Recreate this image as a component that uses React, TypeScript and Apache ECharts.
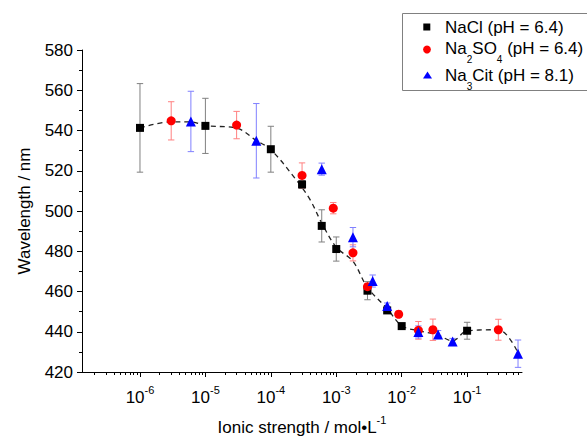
import React, { useEffect, useRef } from 'react';
import * as echarts from 'echarts';

// ---- data (x = ionic strength in mol/L, y = wavelength in nm, err = +/- nm) ----
const naclX = [1e-6, 1e-5, 1e-4, 3e-4, 6e-4, 1e-3, 3e-3, 6e-3, 1e-2, 1e-1];
const naclY = [541.3, 542.3, 530.7, 513.2, 492.6, 481.1, 460.4, 450.6, 442.8, 440.5];
const naclErr = [22, 13.7, 11.4, 2, 8, 6, 4.5, 1.5, 1.5, 4.2];

const na2so4X = [3e-6, 3e-5, 3e-4, 9e-4, 1.8e-3, 3e-3, 9e-3, 1.8e-2, 3e-2, 3e-1];
const na2so4Y = [544.8, 542.7, 517.7, 501.4, 479.2, 462.4, 448.7, 440.7, 441.0, 441.0];
const na2so4Err = [9.5, 6.8, 6.2, 2.8, 4.0, 1.5, 1.5, 4.4, 5.3, 5.2];

const na3citX = [6e-6, 6e-5, 6e-4, 1.8e-3, 3.6e-3, 6e-3, 1.8e-2, 3.6e-2, 6e-2, 6e-1];
const na3citY = [544.5, 534.9, 520.8, 487.0, 465.2, 452.8, 439.9, 438.6, 435.2, 429.1];
const na3citErr = [15, 18.5, 3, 4.8, 3, 1.5, 3, 2, 1.5, 6.8];

// dashed guide curve
const fitX = [1e-6, 3e-6, 6e-6, 1e-5, 3e-5, 6e-5, 1e-4, 2.5e-4, 4e-4, 6e-4, 1e-3, 1.8e-3, 3e-3, 6e-3, 1e-2, 1.8e-2, 3.5e-2, 6e-2, 0.1, 0.3, 0.6];
const fitY = [541.3, 544.3, 544.3, 542.4, 541.2, 535, 530.5, 515, 505.5, 494, 482, 475, 462, 451.5, 443, 440.5, 438.5, 435.5, 440.5, 441, 429.5];

// legend texts: [text, 'n' = normal | 's' = subscript]
const legendNaCl: [string, string][] = [['NaCl (pH = 6.4)', 'n']];
const legendNa2SO4: [string, string][] = [['Na', 'n'], ['2', 's'], ['SO', 'n'], ['4', 's'], [' (pH = 6.4)', 'n']];
const legendNa3Cit: [string, string][] = [['Na', 'n'], ['3', 's'], ['Cit (pH = 8.1)', 'n']];

// axis ticks
const xMin = 1.3e-7;
const xMax = 0.69;
const majorTicks = [1e-6, 1e-5, 1e-4, 1e-3, 1e-2, 1e-1];
const minorMantissas = [2, 3, 4, 5, 6, 7, 8, 9];
const minorExponents = [-7, -6, -5, -4, -3, -2, -1];
const minorTicks: number[] = [];
minorExponents.forEach((e) => minorMantissas.forEach((m) => {
  const v = m * Math.pow(10, e);
  if (v > xMin && v < xMax) minorTicks.push(v);
}));

const FONT = '"Liberation Sans", Arial, sans-serif';
const MAIN_SIZE = 17;
const SUB_SIZE = 10;

const zip = (xs: number[], ys: number[], es?: number[]) =>
  xs.map((x, i) => (es ? [x, ys[i], es[i]] : [x, ys[i]]));

const errSeries = (name: string, data: number[][], color: string) => ({
  type: 'custom',
  name,
  xAxisIndex: 0,
  yAxisIndex: 0,
  data,
  encode: { x: 0, y: 1 },
  z: 2,
  silent: true,
  renderItem: (_params: any, api: any) => {
    const x = api.value(0);
    const y = api.value(1);
    const e = api.value(2);
    const top = api.coord([x, y + e]);
    const bot = api.coord([x, y - e]);
    const hw = 3.2;
    const style = { stroke: color, lineWidth: 1 };
    return {
      type: 'group',
      children: [
        { type: 'line', shape: { x1: top[0], y1: top[1], x2: bot[0], y2: bot[1] }, style },
        { type: 'line', shape: { x1: top[0] - hw, y1: top[1], x2: top[0] + hw, y2: top[1] }, style },
        { type: 'line', shape: { x1: bot[0] - hw, y1: bot[1], x2: bot[0] + hw, y2: bot[1] }, style },
      ],
    };
  },
});

let measureCtx: CanvasRenderingContext2D | null = null;
const measure = (t: string, size: number) => {
  if (!measureCtx) measureCtx = document.createElement('canvas').getContext('2d');
  if (!measureCtx) return t.length * size * 0.55;
  measureCtx.font = `${size}px ${FONT}`;
  return measureCtx.measureText(t).width;
};

const legendTextRow = (parts: [string, string][], x0: number, yMid: number) => {
  const out: any[] = [];
  let x = x0;
  parts.forEach(([t, kind]) => {
    const sub = kind === 's';
    const size = sub ? SUB_SIZE : MAIN_SIZE;
    out.push({
      type: 'text',
      x,
      y: sub ? yMid + 11 : yMid,
      silent: true,
      style: { text: t, fontSize: size, fontFamily: FONT, fill: '#000', align: 'left', verticalAlign: 'middle' },
    });
    x += measure(t, size);
  });
  return out;
};

export default function App() {
  const ref = useRef<HTMLDivElement>(null);
  useEffect(() => {
    if (!ref.current) return;
    const chart = echarts.init(ref.current, undefined, { renderer: 'svg' });
    const textX = 445;
    const legendGraphic = [
      {
        type: 'rect',
        silent: true,
        shape: { x: 402.5, y: 13.5, width: 220, height: 77 },
        style: { fill: '#ffffff', stroke: '#808080', lineWidth: 1 },
        z: 10,
      },
      { type: 'rect', silent: true, shape: { x: 423.3, y: 23.5, width: 7, height: 7 }, style: { fill: '#000000' }, z: 11 },
      { type: 'circle', silent: true, shape: { cx: 427, cy: 49.5, r: 3.9 }, style: { fill: '#ff0000' }, z: 11 },
      { type: 'polygon', silent: true, shape: { points: [[427.5, 71.6], [423, 78.6], [432, 78.6]] }, style: { fill: '#0000ff' }, z: 11 },
      ...legendTextRow(legendNaCl, textX, 27.5).map((e) => ({ ...e, z: 11 })),
      ...legendTextRow(legendNa2SO4, textX, 48.5).map((e) => ({ ...e, z: 11 })),
      ...legendTextRow(legendNa3Cit, textX, 75).map((e) => ({ ...e, z: 11 })),
    ];
    const option: any = {
      animation: false,
      backgroundColor: '#ffffff',
      grid: { left: 82, right: 65, top: 50, bottom: 64, containLabel: false, outerBoundsMode: 'none' },
      graphic: legendGraphic,
      xAxis: [
        {
          type: 'log',
          min: xMin,
          max: xMax,
          position: 'bottom',
          name: '{n|Ionic strength / mol•L}{sup|-1}',
          nameLocation: 'middle',
          nameGap: 42,
          nameTextStyle: {
            fontSize: 17,
            fontFamily: FONT,
            color: '#000',
            rich: {
              n: { fontSize: 17, fontFamily: FONT, color: '#000' },
              sup: { fontSize: 11, fontFamily: FONT, color: '#000', padding: [0, 0, 16, 0] },
            },
          },
          axisLine: { show: true, lineStyle: { color: '#000', width: 1 } },
          axisTick: { show: true, length: 5, inside: false, customValues: majorTicks, lineStyle: { color: '#000', width: 1 } },
          minorTick: { show: false },
          splitLine: { show: false },
          axisLabel: {
            show: true,
            margin: 12,
            customValues: majorTicks,
            formatter: (v: number) => `{b|10}{sup|${Math.round(Math.log10(v))}}`,
            rich: {
              b: { fontSize: 17, fontFamily: FONT, color: '#000' },
              sup: { fontSize: 11, fontFamily: FONT, color: '#000', padding: [0, 0, 16, 0] },
            },
          },
        },
        {
          type: 'log',
          min: xMin,
          max: xMax,
          position: 'bottom',
          gridIndex: 0,
          axisLine: { show: false },
          axisTick: { show: true, length: 3, inside: false, customValues: minorTicks, lineStyle: { color: '#000', width: 1 } },
          axisLabel: { show: false },
          splitLine: { show: false },
        },
      ],
      yAxis: {
        type: 'value',
        min: 420,
        max: 580,
        interval: 20,
        name: 'Wavelength / nm',
        nameLocation: 'middle',
        nameGap: 49,
        nameTextStyle: { fontSize: 17, fontFamily: FONT, color: '#000' },
        axisLine: { show: true, lineStyle: { color: '#000', width: 1 } },
        axisTick: { show: true, length: 5, inside: false, lineStyle: { color: '#000', width: 1 } },
        minorTick: { show: true, splitNumber: 2, length: 3, lineStyle: { color: '#000', width: 1 } },
        splitLine: { show: false },
        axisLabel: { fontSize: 17, fontFamily: FONT, color: '#000', margin: 9 },
      },
      series: [
        {
          type: 'line',
          name: 'fit',
          data: zip(fitX, fitY),
          smooth: 0.35,
          symbol: 'none',
          z: 1,
          silent: true,
          lineStyle: { color: '#222', width: 1.3, type: [5, 4] },
        },
        errSeries('NaCl err', zip(naclX, naclY, naclErr), '#808080'),
        {
          type: 'scatter',
          name: 'NaCl',
          data: zip(naclX, naclY),
          symbol: 'rect',
          symbolSize: 8,
          z: 3,
          itemStyle: { color: '#000000', opacity: 1 },
        },
        errSeries('Na2SO4 err', zip(na2so4X, na2so4Y, na2so4Err), '#ff8080'),
        {
          type: 'scatter',
          name: 'Na2SO4',
          data: zip(na2so4X, na2so4Y),
          symbol: 'circle',
          symbolSize: 9,
          z: 4,
          itemStyle: { color: '#ff0000', opacity: 1 },
        },
        errSeries('Na3Cit err', zip(na3citX, na3citY, na3citErr), '#8080ff'),
        {
          type: 'scatter',
          name: 'Na3Cit',
          data: zip(na3citX, na3citY),
          symbol: 'triangle',
          symbolSize: 10,
          z: 5,
          itemStyle: { color: '#0000ff', opacity: 1 },
        },
      ],
    };
    chart.setOption(option);
    return () => chart.dispose();
  }, []);
  return <div ref={ref} style={{ width: 587, height: 436, position: 'absolute', left: 0, top: 0 }} />;
}
